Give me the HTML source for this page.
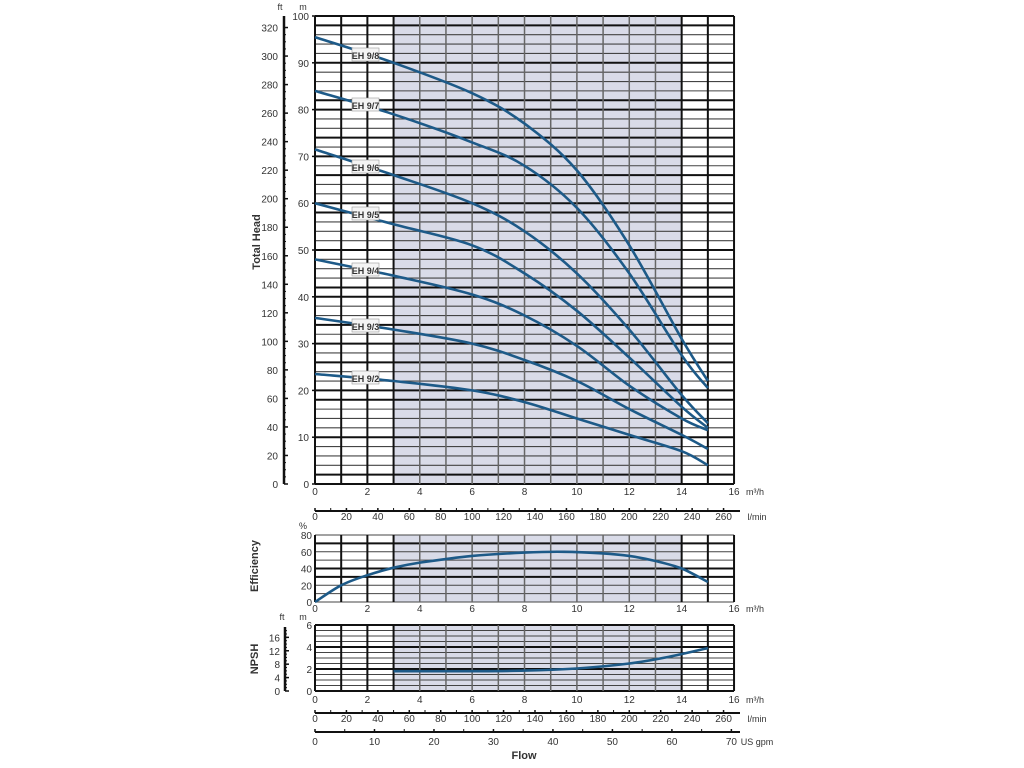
<!DOCTYPE html>
<html><head><meta charset="utf-8"><style>
html,body{margin:0;padding:0;background:#fff;}
svg{display:block;font-family:"Liberation Sans",sans-serif;}
</style></head><body>
<svg id="s" width="1024" height="768" xmlns="http://www.w3.org/2000/svg"></svg>
<script>
var s=document.getElementById('s'),h='';
var X0=315,PX=26.19;function X(q){return X0+q*PX;}
function line(x1,y1,x2,y2,w,c){h+='<line x1="'+x1+'" y1="'+y1+'" x2="'+x2+'" y2="'+y2+'" stroke="'+c+'" stroke-width="'+w+'"/>';}
function txt(x,y,t,sz,anc,ex){h+='<text x="'+x+'" y="'+y+'" font-size="'+sz+'" text-anchor="'+(anc||'middle')+'" fill="#333" '+(ex||'')+'>'+t+'</text>';}
function path(pts,fx,fy){var p=pts.map(function(a){return[fx(a[0]),fy(a[1])];});
 var d='M'+p[0][0].toFixed(1)+' '+p[0][1].toFixed(1);
 for(var i=0;i<p.length-1;i++){var p0=p[i-1]||p[i],p1=p[i],p2=p[i+1],p3=p[i+2]||p2;
 d+=' C'+(p1[0]+(p2[0]-p0[0])/6).toFixed(1)+' '+(p1[1]+(p2[1]-p0[1])/6).toFixed(1)+' '+(p2[0]-(p3[0]-p1[0])/6).toFixed(1)+' '+(p2[1]-(p3[1]-p1[1])/6).toFixed(1)+' '+p2[0].toFixed(1)+' '+p2[1].toFixed(1);}
 h+='<path d="'+d+'" fill="none" stroke="#1d5a88" stroke-width="2.6"/>';}
function panel(yt,yb,hl,thick){
 h+='<rect x="'+X(3)+'" y="'+yt+'" width="'+(X(14)-X(3))+'" height="'+(yb-yt)+'" fill="#d9dbe8"/>';
 hl.forEach(function(y,i){line(X0,y,X(16),y,thick(i)?2:1.1,thick(i)?'#111':'#444');});
 for(var i=0;i<=16;i++){var inside=i>3&&i<14;line(X(i),yt,X(i),yb,inside?1.5:2,inside?'#666':'#111');}
 line(X0,yt,X0,yb,2,'#111');
}
// main
var YM=function(m){return 484-m*4.68;};
var hl=[];for(var m=0;m<=100;m+=2)hl.push(YM(m));
panel(16,484,hl,function(i){return (i*2)%10==0||i%4==1;});
for(var m=0;m<=100;m+=10){txt(309,YM(m)+4,m,10,'end');line(312,YM(m),316,YM(m),1.5,'#111');}
txt(303,10,'m',9);txt(280,10,'ft',9);
line(284,16,284,484,2.5,'#111');
for(var f=0;f<=320;f+=20){var y=484-f*0.3048*4.68;txt(278,y+4,f,10,'end');line(284,y,288,y,1.5,'#111');}
for(var f=0;f<=320;f+=5){var y=484-f*0.3048*4.68;line(284,y,286,y,1,'#111');}
for(var i=0;i<=16;i+=2)txt(X(i),495,i,10);
txt(755,495,'m³/h',9);
var curves=[
[[0,95.5],[3,90],[6,83.5],[8,77],[10,67],[12,51],[14,31],[15,22]],
[[0,84],[3,79],[6,73],[8,68],[10,59],[12,45],[14,27.5],[15,20.5]],
[[0,71.5],[3,66],[6,60],[8,54],[10,45],[12,33],[14,19],[15,13]],
[[0,60],[3,55.5],[6,51],[8,45],[10,37],[12,27],[14,16.5],[15,12]],
[[0,48],[3,44.5],[6,40.5],[8,36],[10,29.5],[12,21],[14,14],[15,11.5]],
[[0,35.5],[3,33],[6,30],[8,26.5],[10,22],[12,16],[14,10.5],[15,7.5]],
[[0,23.5],[3,22],[6,20],[8,17.5],[10,14],[12,10.5],[14,7],[15,4]]];
curves.forEach(function(c){path(c,X,YM);});
var labs=[['EH 9/8',55],['EH 9/7',105],['EH 9/6',167],['EH 9/5',214],['EH 9/4',270],['EH 9/3',326],['EH 9/2',378]];
labs.forEach(function(l){h+='<rect x="352" y="'+(l[1]-7)+'" width="27" height="13" fill="#f4f4f4" stroke="#999" stroke-width="0.6"/>';txt(365.5,l[1]+4,l[0],9,'middle','font-weight="bold"');});
// l/min axis
line(315,511,740,511,2,'#111');
for(var l=0;l<=260;l+=10){var x=X0+l*0.06*PX;line(x,508,x,511,l%20==0?1.5:1,'#111');if(l%20==0)txt(x,520,l,10);}
txt(757,520,'l/min',9);
// efficiency
var YE=function(e){return 602-e*0.8375;};
hl=[];for(var e=0;e<=80;e+=10)hl.push(YE(e));
panel(535,602,hl,function(i){return i==3||i==4||i==7;});
for(var e=0;e<=80;e+=20){txt(312,YE(e)+4,e,10,'end');}
txt(303,529,'%',9);
for(var i=0;i<=16;i+=2)txt(X(i),612,i,10);
txt(755,612,'m³/h',9);
path([[0,0],[1,20],[2,32],[3,41],[4,47],[6,55],[8,59],[9.5,60],[11,58],[12,55],[13,49],[14,40],[15,24]],X,YE);
// NPSH
var YN=function(m){return 691-m*11;};
hl=[];for(var m=0;m<=6;m+=0.5)hl.push(YN(m));
panel(625,691,hl,function(i){return i%4==0;});
for(var m=0;m<=6;m+=2){txt(312,YN(m)+4,m,10,'end');}
txt(303,620,'m',9);txt(282,620,'ft',9);
line(285,627,285,691,2.5,'#111');
for(var f=0;f<=16;f+=4){var y=691-f*0.3048*11;txt(280,y+4,f,10,'end');line(285,y,289,y,1.5,'#111');}
for(var f=0;f<=18;f+=1){var y=691-f*0.3048*11;line(285,y,287,y,1,'#111');}
for(var i=0;i<=16;i+=2)txt(X(i),703,i,10);
txt(755,703,'m³/h',9);
path([[3,1.8],[6,1.8],[8,1.85],[10,2.05],[12,2.5],[13.5,3.1],[15,3.9]],X,YN);
// l/min 2
line(315,713,740,713,2,'#111');
for(var l=0;l<=260;l+=10){var x=X0+l*0.06*PX;line(x,710,x,713,l%20==0?1.5:1,'#111');if(l%20==0)txt(x,722,l,10);}
txt(757,722,'l/min',9);
// US gpm
line(315,732,740,732,2,'#111');
for(var g=0;g<=70;g+=5){var x=X0+g*0.22712*PX;line(x,729,x,732,g%10==0?1.5:1,'#111');if(g%10==0)txt(x,745,g,10);}
txt(757,745,'US gpm',9);
txt(524,759,'Flow',11,'middle','font-weight="bold"');
txt(0,0,'Total Head',11,'middle','font-weight="bold" transform="translate(260,242) rotate(-90)"');
txt(0,0,'Efficiency',11,'middle','font-weight="bold" transform="translate(258,566) rotate(-90)"');
txt(0,0,'NPSH',11,'middle','font-weight="bold" transform="translate(258,659) rotate(-90)"');
s.innerHTML=h;
</script>
</body></html>
